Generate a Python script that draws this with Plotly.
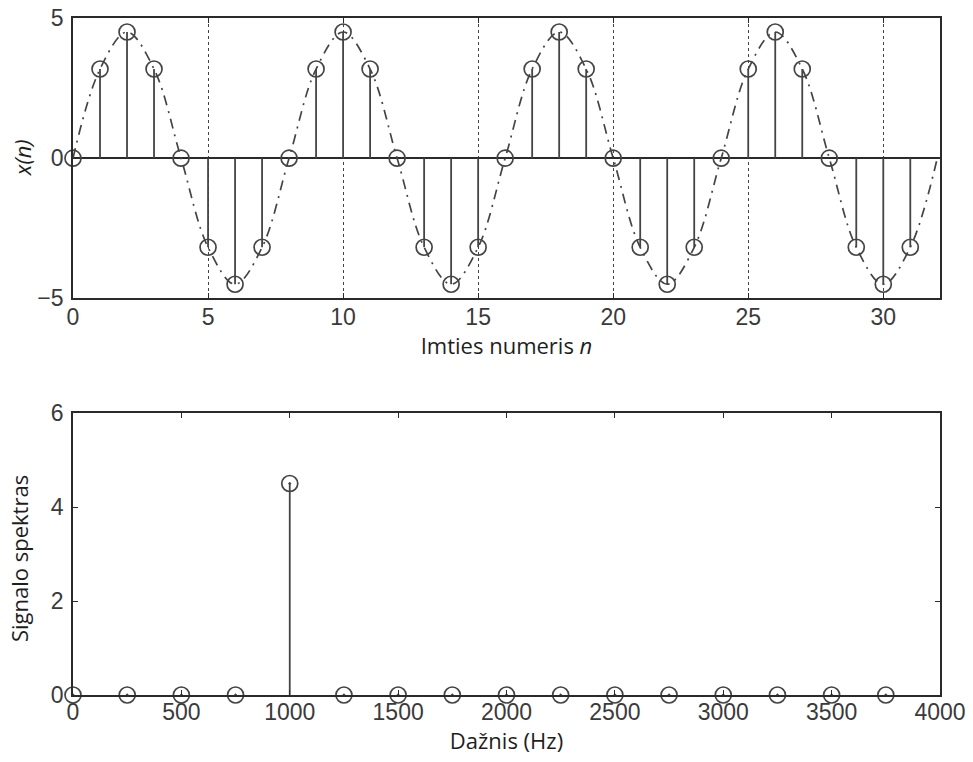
import plotly.graph_objects as go

# Sampled sine: sample index and amplitude
n_samples = list(range(32))
x_values = [0, 3.18, 4.5, 3.18, 0, -3.18, -4.5, -3.18,
            0, 3.18, 4.5, 3.18, 0, -3.18, -4.5, -3.18,
            0, 3.18, 4.5, 3.18, 0, -3.18, -4.5, -3.18,
            0, 3.18, 4.5, 3.18, 0, -3.18, -4.5, -3.18]

# Underlying analog waveform passes through the samples and returns to 0 at n = 32
curve_n = n_samples + [32]
curve_vals = x_values + [0]

# Amplitude spectrum bins
freqs = [0, 250, 500, 750, 1000, 1250, 1500, 1750,
         2000, 2250, 2500, 2750, 3000, 3250, 3500, 3750]
spectrum = [0, 0, 0, 0, 4.5, 0, 0, 0, 0, 0, 0, 0, 0, 0, 0, 0]

top_xticks = [0, 5, 10, 15, 20, 25, 30]
top_yticks = [-5, 0, 5]
bot_xticks = [0, 500, 1000, 1500, 2000, 2500, 3000, 3500, 4000]
bot_yticks = [0, 2, 4, 6]

INK = "#444444"
FRAME = "#2a2a2a"
TICK_FONT = dict(family="Liberation Sans, Arial, sans-serif", size=23, color="#3a3a3a")
TITLE_FONT = dict(family="Open Sans, Lato, sans-serif", size=22, color="#1e1e1e")

TOP_DOMAIN = [0.586, 1]
BOT_DOMAIN = [0, 0.4165]


def stem_xy(xs, ys):
    sx, sy = [], []
    for a, b in zip(xs, ys):
        sx += [a, a, None]
        sy += [0, b, None]
    return sx, sy


fig = go.Figure()

# Top: continuous waveform
fig.add_trace(go.Scatter(
    x=curve_n, y=curve_vals, mode="lines",
    line=dict(color=INK, width=1.7, dash="10px,6px,2px,6px", shape="spline", smoothing=1.0),
    xaxis="x", yaxis="y", hoverinfo="skip"))

sx, sy = stem_xy(n_samples, x_values)
fig.add_trace(go.Scatter(x=sx, y=sy, mode="lines",
                         line=dict(color=INK, width=1.8),
                         xaxis="x", yaxis="y", hoverinfo="skip"))
fig.add_trace(go.Scatter(
    x=n_samples, y=x_values, mode="markers", cliponaxis=False,
    marker=dict(symbol="circle-open", size=16, color=INK, line=dict(width=1.7)),
    xaxis="x", yaxis="y"))

# Bottom: spectrum
fx, fy = stem_xy(freqs, spectrum)
fig.add_trace(go.Scatter(x=fx, y=fy, mode="lines",
                         line=dict(color=INK, width=1.8),
                         xaxis="x2", yaxis="y2", hoverinfo="skip"))
fig.add_trace(go.Scatter(
    x=freqs, y=spectrum, mode="markers", cliponaxis=False,
    marker=dict(symbol="circle-open-dot", size=16, color=INK, line=dict(width=1.7)),
    xaxis="x2", yaxis="y2"))

axis_common = dict(
    showline=True, mirror="ticks", linecolor=FRAME, linewidth=1.6,
    ticks="inside", ticklen=5, tickcolor=FRAME, tickwidth=1,
    tickfont=TICK_FONT, zeroline=False, automargin=False,
)

fig.update_layout(
    width=973, height=762,
    paper_bgcolor="white", plot_bgcolor="white",
    showlegend=False,
    margin=dict(l=73, r=33, t=18, b=67, autoexpand=False),
    xaxis=dict(
        domain=[0, 1], anchor="y", range=[0, 32.1],
        tickvals=top_xticks, showgrid=True, gridcolor="#444", griddash="dot", gridwidth=1,
        ticklabelstandoff=-3,
        title=dict(text="Imties numeris <i>n</i>", font=TITLE_FONT, standoff=2),
        **axis_common),
    yaxis=dict(
        domain=TOP_DOMAIN, anchor="x", range=[-5, 5],
        tickvals=top_yticks, tickformat="d", showgrid=False, ticklabelstandoff=3,
        **{**axis_common, "zeroline": True}, zerolinecolor=FRAME, zerolinewidth=1.8),
    xaxis2=dict(
        domain=[0, 1], anchor="y2", range=[0, 4000],
        tickvals=bot_xticks, showgrid=False, ticklabelstandoff=-4,
        title=dict(text="Dažnis (Hz)", font=TITLE_FONT, standoff=2),
        **axis_common),
    yaxis2=dict(
        domain=BOT_DOMAIN, anchor="x2", range=[0, 6],
        tickvals=bot_yticks, showgrid=False, ticklabelstandoff=3,
        **axis_common),
    annotations=[
        dict(text="<i>x(n)</i>", font=TITLE_FONT, textangle=-90, showarrow=False,
             xref="paper", yref="paper", x=0, y=sum(TOP_DOMAIN) / 2,
             xanchor="center", yanchor="middle", xshift=-51),
        dict(text="Signalo spektras", font=TITLE_FONT, textangle=-90, showarrow=False,
             xref="paper", yref="paper", x=0, y=sum(BOT_DOMAIN) / 2,
             xanchor="center", yanchor="middle", xshift=-54, yshift=-5),
    ],
)

fig.write_html("out.html")
